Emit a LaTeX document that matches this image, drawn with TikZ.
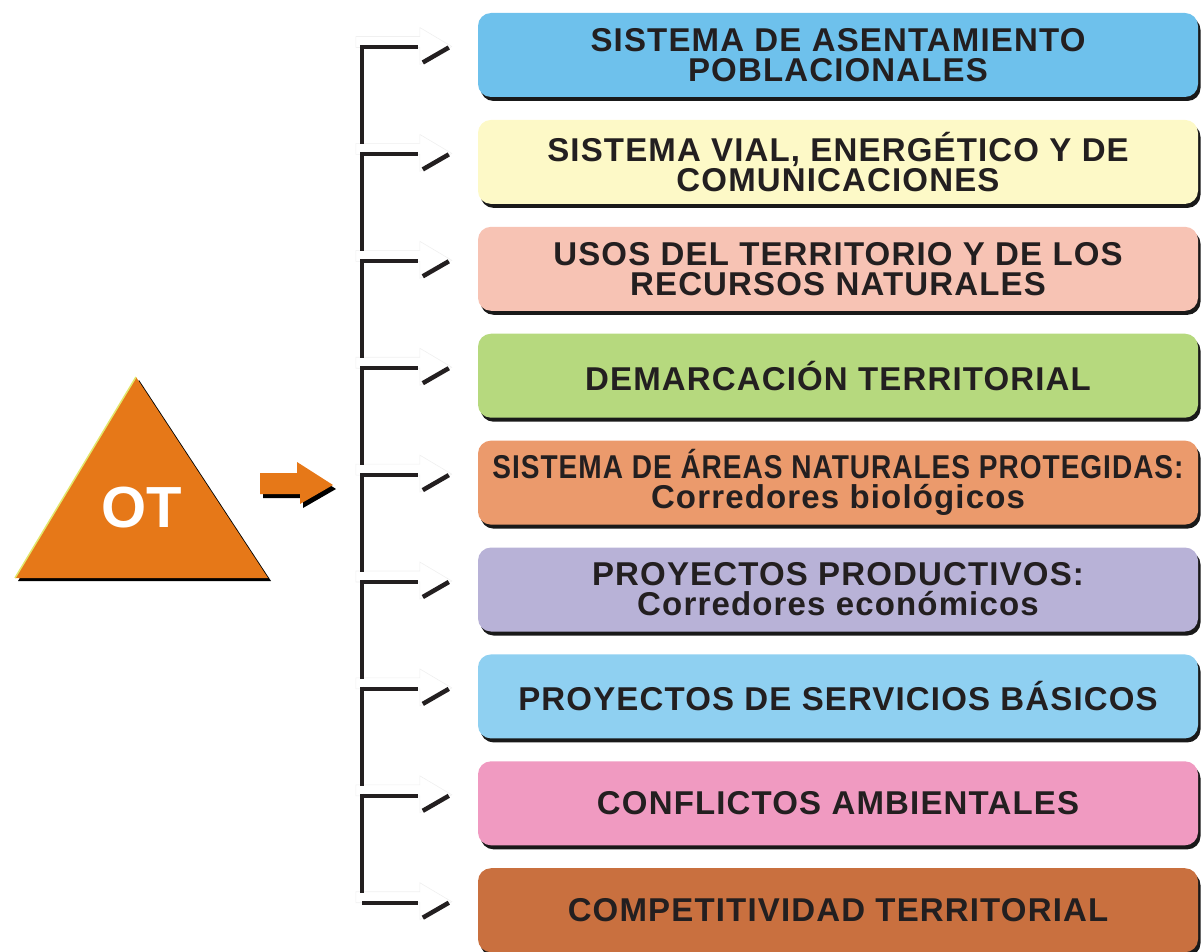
\documentclass[tikz,border=0pt]{standalone}
\usepackage{fontspec}
\usepackage{graphicx}
\setmainfont{Liberation Sans}
\newfontfamily\boxfont[LetterSpace=3.5]{Liberation Sans}
\usetikzlibrary{shadows, calc}

\definecolor{ink}{HTML}{231F20}
\definecolor{otorange}{HTML}{E67818}
\definecolor{otedge}{HTML}{E2E66A}
\definecolor{fillA}{HTML}{6EC1EC}
\definecolor{fillB}{HTML}{FDF9C7}
\definecolor{fillC}{HTML}{F7C3B4}
\definecolor{fillD}{HTML}{B6D97E}
\definecolor{fillE}{HTML}{EB9A6C}
\definecolor{fillF}{HTML}{B8B2D7}
\definecolor{fillG}{HTML}{8FD0F1}
\definecolor{fillH}{HTML}{F09AC1}
\definecolor{fillI}{HTML}{C9703F}

\begin{document}
\begin{tikzpicture}[
  x=1pt, y=-1pt,
  box/.style={rectangle, rounded corners=13pt, minimum width=720pt, minimum height=84pt, inner sep=0pt, align=center, text=ink,
    font=\boxfont\bfseries\fontsize{33}{30}\selectfont,
    drop shadow={shadow xshift=2.5pt, shadow yshift=-4pt, fill=black, opacity=0.9}},
  shadeline/.style={draw=ink, line width=4pt},
  ghost/.style={draw=gray!12, line width=0.6pt, fill=white}
]
  \useasboundingbox (0,0) rectangle (1201,952);

  % OT triangle
  \fill[black] (18,581) -- (139,380) -- (271,581) -- cycle;
  \fill[otorange] (15,578) -- (136,377) -- (268,578) -- cycle;
  \draw[otedge, line width=1.5pt] (15,578) -- (136,377);
  \node[text=white, font=\bfseries\fontsize{58}{58}\selectfont] (ot) at (142,508) {OT};

  % small orange arrow
  \coordinate (tip) at (333,485);
  \fill[black] (263,477) -- (300,477) -- (300,466) -- ($(tip)+(3,4)$) -- (303,508) -- (303,498) -- (263,498) -- cycle;
  \fill[otorange] (260,473) -- (297,473) -- (297,462) -- (tip) -- (300,504) -- (300,494) -- (260,494) -- cycle;

  % boxes
  \foreach \i/\c/\txt in {
    1/fillA/{SISTEMA DE ASENTAMIENTO\\POBLACIONALES},
    2/fillB/{SISTEMA VIAL, ENERGÉTICO Y DE\\COMUNICACIONES},
    3/fillC/{USOS DEL TERRITORIO Y DE LOS\\RECURSOS NATURALES},
    4/fillD/{DEMARCACIÓN TERRITORIAL},
    5/fillE/{\scalebox{0.85}[1]{SISTEMA DE ÁREAS NATURALES PROTEGIDAS:}\\Corredores biológicos},
    6/fillF/{PROYECTOS PRODUCTIVOS:\\Corredores económicos},
    7/fillG/{PROYECTOS DE SERVICIOS BÁSICOS},
    8/fillH/{CONFLICTOS AMBIENTALES},
    9/fillI/{COMPETITIVIDAD TERRITORIAL}} {
    \node[box, fill=\c] (b\i) at (838, {55+106.9*(\i-1)}) {\txt};
    \coordinate (k\i) at ($(b\i.west)+(-116,-7.5)$);
  }

  % bracket with ghost arrows
  \foreach \i in {1,...,9} {
    \draw[ghost] ($(k\i)+(-6,-11)$) -- ($(k\i)+(58,-11)$) -- ($(k\i)+(58,-20)$) -- ($(k\i)+(90,-1)$)
      -- ($(k\i)+(58,17)$) -- ($(k\i)+(58,0)$) -- ($(k\i)+(-6,0)$) -- cycle;
    \draw[shadeline] ($(k\i)+(56,0)$) -- (k\i);
    \draw[shadeline, line width=4.5pt] ($(k\i)+(61,15)$) -- ($(k\i)+(87,0)$);
  }
  \foreach \i [evaluate=\i as \j using int(\i+1)] in {1,...,8}
    \draw[shadeline] ($(k\i)+(0,-2)$) -- ($(k\j)+(0,-10)$);

\end{tikzpicture}
\end{document}
